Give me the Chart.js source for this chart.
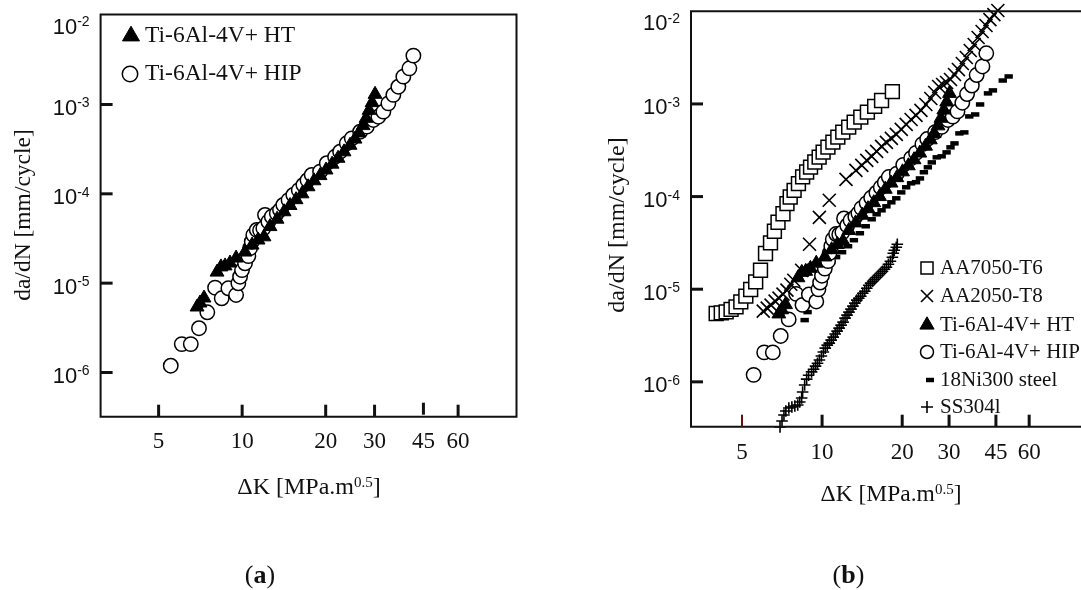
<!DOCTYPE html>
<html>
<head>
<meta charset="utf-8">
<script src="https://cdn.jsdelivr.net/npm/chart.js@4.4.1/dist/chart.umd.min.js"></script>
<style>
  html, body { margin: 0; padding: 0; background: #fff; }
  #wrap { position: relative; width: 1081px; height: 590px; overflow: hidden; }
  canvas { position: absolute; top: 0; }
  #left { left: 0; }
  #right { left: 540px; }
</style>
</head>
<body>
<div id="wrap">
  <canvas id="left" width="540" height="590"></canvas>
  <canvas id="right" width="541" height="590"></canvas>
</div>
<script>
'use strict';

// axis ticks
const kTicks = [5, 10, 20, 30, 45, 60];
const rateExps = [-2, -3, -4, -5, -6];

// Ti-6Al-4V + HT
const htK = [6.88, 7.05, 7.29, 8.12, 8.39, 8.68, 9.04, 9.51, 10.24, 10.86, 11.41, 11.99, 12.6, 13.36, 14.16, 14.88, 15.64, 16.44, 17.28, 18.16, 19.09, 20.06, 21.09, 22.16, 23.29, 24.48, 25.51, 26.38, 27.27, 27.96, 28.67, 29.39, 30.12];
const htRate = [5.41e-6, 6.0e-6, 6.82e-6, 1.33e-5, 1.52e-5, 1.56e-5, 1.68e-5, 1.91e-5, 2.23e-5, 2.67e-5, 3.04e-5, 3.3e-5, 4.3e-5, 5.2e-5, 6.3e-5, 7.4e-5, 8.6e-5, 1.0e-4, 1.2e-4, 1.4e-4, 1.6e-4, 1.85e-4, 2.15e-4, 2.5e-4, 2.95e-4, 3.5e-4, 4.1e-4, 4.8e-4, 5.8e-4, 7.0e-4, 8.6e-4, 1.05e-3, 1.3e-3];

// Ti-6Al-4V + HIP
const hipK = [5.53, 6.06, 6.53, 6.99, 7.49, 7.99, 8.44, 8.92, 9.51, 9.69, 9.83, 9.99, 10.24, 10.53, 10.68, 10.83, 10.97, 11.29, 11.6, 11.92, 12.09, 12.43, 12.79, 13.33, 13.69, 14.07, 14.7, 15.29, 16.0, 16.62, 17.2, 17.81, 19.09, 20.18, 21.62, 22.54, 23.82, 24.83, 26.61, 28.12, 29.7, 30.96, 32.27, 33.64, 35.06, 36.54, 38.09, 40.05, 41.4];
const hipRate = [1.19e-6, 2.08e-6, 2.08e-6, 3.13e-6, 4.72e-6, 8.9e-6, 6.77e-6, 8.76e-6, 7.37e-6, 9.97e-6, 1.18e-5, 1.4e-5, 1.67e-5, 2.01e-5, 2.46e-5, 2.91e-5, 3.46e-5, 3.94e-5, 3.9e-5, 4.11e-5, 5.8e-5, 4.88e-5, 5.55e-5, 6.05e-5, 6.59e-5, 7.5e-5, 8.5e-5, 9.71e-5, 1.1e-4, 1.256e-4, 1.42e-4, 1.625e-4, 1.77e-4, 2.2e-4, 2.6e-4, 2.96e-4, 3.68e-4, 4.18e-4, 4.96e-4, 5.65e-4, 6.71e-4, 7.3e-4, 8.31e-4, 1.03e-3, 1.28e-3, 1.58e-3, 2.05e-3, 2.54e-3, 3.52e-3];

// AA7050-T6
const aa7050K = [4.0, 4.18, 4.36, 4.55, 4.75, 4.95, 5.17, 5.39, 5.63, 5.87, 6.13, 6.4, 6.62, 6.83, 7.13, 7.38, 7.59, 7.85, 8.15, 8.45, 8.75, 9.05, 9.39, 9.75, 10.09, 10.52, 10.98, 11.46, 11.96, 12.59, 13.2, 13.98, 14.8, 15.76, 16.73, 18.37];
const aa7050Rate = [5.47e-6, 5.56e-6, 5.7e-6, 6.05e-6, 6.45e-6, 7.3e-6, 8.41e-6, 9.94e-6, 1.2e-5, 1.6e-5, 2.43e-5, 3.16e-5, 4.22e-5, 5.28e-5, 6.52e-5, 8.4e-5, 9.89e-5, 1.168e-4, 1.38e-4, 1.63e-4, 1.84e-4, 2.08e-4, 2.36e-4, 2.67e-4, 3.02e-4, 3.42e-4, 3.87e-4, 4.38e-4, 4.97e-4, 5.62e-4, 6.36e-4, 7.21e-4, 8.15e-4, 9.4e-4, 1.09e-3, 1.36e-3];

// AA2050-T8
const aa2050K = [6.01, 6.22, 6.43, 6.66, 6.89, 7.13, 7.38, 7.63, 7.83, 8.38, 8.97, 9.77, 10.64, 12.3, 13.4, 14.1, 14.72, 15.36, 16.03, 16.73, 17.45, 18.21, 19.0, 19.84, 20.7, 21.6, 22.54, 23.52, 24.55, 25.62, 26.5, 27.42, 28.38, 29.37, 30.38, 31.44, 32.53, 33.65, 34.83, 36.03, 37.28, 38.58, 39.92, 41.3, 42.73, 44.22, 45.75];
const aa2050Rate = [5.8e-6, 6.25e-6, 6.73e-6, 7.43e-6, 8.0e-6, 8.84e-6, 9.77e-6, 1.13e-5, 1.25e-5, 1.6e-5, 3.06e-5, 5.97e-5, 9.12e-5, 1.535e-4, 1.92e-4, 2.17e-4, 2.46e-4, 2.72e-4, 3.08e-4, 3.48e-4, 3.85e-4, 4.25e-4, 4.69e-4, 5.31e-4, 6.01e-4, 6.8e-4, 7.52e-4, 8.51e-4, 9.87e-4, 1.146e-3, 1.33e-3, 1.543e-3, 1.62e-3, 1.705e-3, 1.837e-3, 2.08e-3, 2.35e-3, 2.73e-3, 3.17e-3, 3.77e-3, 4.38e-3, 5.21e-3, 6.05e-3, 7.02e-3, 8.14e-3, 9.22e-3, 1.02e-2];

// 18Ni300 steel
const ni300K = [8.6, 8.82, 9.05, 9.37, 9.69, 10.0, 10.37, 10.82, 11.29, 11.89, 12.52, 13.17, 13.87, 14.59, 15.36, 16.03, 16.73, 17.45, 18.21, 19.0, 19.84, 20.7, 21.6, 22.54, 23.32, 24.13, 24.97, 25.84, 26.97, 28.14, 29.37, 30.38, 31.44, 32.81, 34.24, 35.73, 37.6, 39.24, 42.02, 43.84, 47.74, 50.24];
const ni300Rate = [4.64e-6, 5.66e-6, 7.08e-6, 9.29e-6, 1.16e-5, 1.42e-5, 1.69e-5, 1.96e-5, 2.22e-5, 2.51e-5, 2.91e-5, 3.38e-5, 4.02e-5, 4.78e-5, 5.69e-5, 6.44e-5, 7.11e-5, 7.85e-5, 8.67e-5, 9.58e-5, 1.11e-4, 1.26e-4, 1.39e-4, 1.43e-4, 1.57e-4, 1.83e-4, 2.07e-4, 2.34e-4, 2.65e-4, 2.72e-4, 3.0e-4, 3.4e-4, 3.75e-4, 4.81e-4, 4.93e-4, 7.33e-4, 7.7e-4, 9.87e-4, 1.3e-3, 1.4e-3, 1.79e-3, 1.98e-3];

// SS304l
const ss304K = [6.95, 7.07, 7.19, 7.31, 7.5, 7.7, 7.9, 8.1, 8.24, 8.38, 8.45, 8.6, 8.75, 8.9, 9.13, 9.29, 9.45, 9.61, 9.77, 9.94, 10.11, 10.28, 10.46, 10.64, 10.82, 11.01, 11.2, 11.39, 11.59, 11.79, 11.99, 12.2, 12.41, 12.62, 12.84, 13.06, 13.28, 13.51, 13.74, 13.98, 14.22, 14.47, 14.72, 14.97, 15.22, 15.49, 15.75, 16.03, 16.3, 16.58, 16.87, 17.16, 17.45, 17.75, 18.06, 18.37, 18.52, 18.68, 19.0, 19.17];
const ss304Rate = [3.26e-7, 3.78e-7, 4.39e-7, 4.85e-7, 5.22e-7, 5.35e-7, 5.49e-7, 5.62e-7, 6.06e-7, 6.69e-7, 7.77e-7, 9.24e-7, 1.07e-6, 1.18e-6, 1.28e-6, 1.37e-6, 1.48e-6, 1.59e-6, 1.72e-6, 1.9e-6, 2.1e-6, 2.31e-6, 2.49e-6, 2.62e-6, 2.82e-6, 3.04e-6, 3.28e-6, 3.53e-6, 3.8e-6, 4.1e-6, 4.41e-6, 4.87e-6, 5.25e-6, 5.66e-6, 6.09e-6, 6.57e-6, 7.07e-6, 7.62e-6, 8.0e-6, 8.41e-6, 9.06e-6, 9.52e-6, 1.026e-5, 1.105e-5, 1.162e-5, 1.22e-5, 1.283e-5, 1.348e-5, 1.417e-5, 1.489e-5, 1.565e-5, 1.644e-5, 1.728e-5, 1.862e-5, 2.006e-5, 2.215e-5, 2.445e-5, 2.635e-5, 2.84e-5, 3.06e-5];

const serif = '"Liberation Serif", "Times New Roman", serif';
const sans = '"Liberation Sans", Arial, sans-serif';

const styles = {
    sq: { pointStyle: 'rect', pointRadius: 9.8, pointBackgroundColor: '#fff', pointBorderColor: '#000', pointBorderWidth: 1.5 },
    x: { pointStyle: 'crossRot', pointRadius: 9.2, pointBackgroundColor: '#000', pointBorderColor: '#000', pointBorderWidth: 1.6 },
    tri: { pointStyle: 'triangle', pointRadius: 8, pointBackgroundColor: '#000', pointBorderColor: '#000', pointBorderWidth: 1 },
    circ: { pointStyle: 'circle', pointRadius: 7.2, pointBackgroundColor: '#fff', pointBorderColor: '#000', pointBorderWidth: 1.5 },
    dash: { pointStyle: 'line', pointRadius: 4.2, pointBackgroundColor: '#000', pointBorderColor: '#000', pointBorderWidth: 4.5 },
    plus: { pointStyle: 'cross', pointRadius: 5.8, pointBackgroundColor: '#000', pointBorderColor: '#000', pointBorderWidth: 1.6 }
};

let series = (label, ks, rates, st) => Object.assign({
    label: label,
    data: ks.map((k, i) => ({ x: k, y: rates[i] })),
    showLine: false,
    clip: false
}, st);

let richText = (ctx, parts, x, y, align) => {
    let w = 0;
    parts.forEach(p => { ctx.font = p.font; p.w = ctx.measureText(p.t).width; w += p.w; });
    let cx = align === 'center' ? x - w / 2 : (align === 'right' ? x - w : x);
    ctx.textAlign = 'left';
    ctx.textBaseline = 'alphabetic';
    parts.forEach(p => { ctx.font = p.font; ctx.fillText(p.t, cx, y + (p.dy || 0)); cx += p.w; });
};

let marker = (ctx, st, x, y, r) => {
    ctx.fillStyle = st.pointBackgroundColor;
    ctx.strokeStyle = st.pointBorderColor;
    ctx.lineWidth = st.pointBorderWidth;
    Chart.helpers.drawPoint(ctx, { pointStyle: st.pointStyle, radius: r || st.pointRadius, borderWidth: st.pointBorderWidth, rotation: 0 }, x, y);
};

let decor = (cfg) => ({
    id: 'decor',
    afterDraw(chart) {
        const ctx = chart.ctx, a = chart.chartArea;
        const xs = chart.scales.x, ys = chart.scales.y;
        ctx.save();
        ctx.strokeStyle = '#111';
        ctx.lineWidth = 2;
        ctx.beginPath();
        if (cfg.fullBox) {
            ctx.rect(a.left, a.top, a.right - a.left, a.bottom - a.top);
        } else {
            ctx.moveTo(chart.width, a.top);
            ctx.lineTo(a.left, a.top);
            ctx.lineTo(a.left, a.bottom);
            ctx.lineTo(chart.width, a.bottom);
        }
        ctx.stroke();

        // inward tick marks on the x axis
        kTicks.forEach(k => {
            const px = xs.getPixelForValue(k);
            const odd = cfg.oddTick && cfg.oddTick.value === k;
            const lift = cfg.lift && cfg.lift[k] ? cfg.lift[k] : 0;
            ctx.beginPath();
            ctx.lineWidth = odd ? 2 : 3;
            ctx.strokeStyle = odd ? cfg.oddTick.color : '#111';
            ctx.moveTo(px, a.bottom - lift);
            ctx.lineTo(px, a.bottom - 12 - lift);
            ctx.stroke();
            ctx.fillStyle = '#111';
            ctx.font = cfg.tickFont;
            ctx.textAlign = 'center';
            ctx.textBaseline = 'middle';
            ctx.fillText(String(k), px, a.bottom + cfg.xLabelGap);
        });

        // inward tick marks and labels on the y axis
        rateExps.forEach(e => {
            const py = ys.getPixelForValue(Math.pow(10, e));
            if (e < -2) {
                ctx.beginPath();
                ctx.lineWidth = 3;
                ctx.strokeStyle = '#111';
                ctx.moveTo(a.left, py);
                ctx.lineTo(a.left + 12, py);
                ctx.stroke();
            }
            const base = Math.max(py + 10.5, a.top + 19);
            ctx.fillStyle = '#111';
            richText(ctx, [
                { t: '10', font: cfg.yNumFont },
                { t: String(e), font: cfg.ySupFont, dy: -7.5 }
            ], a.left - 11, base, 'right');
        });

        // axis titles
        ctx.fillStyle = '#111';
        richText(ctx, [
            { t: '\u0394K [MPa.m', font: cfg.titleFont },
            { t: '0.5', font: cfg.titleSupFont, dy: -7.5 },
            { t: ']', font: cfg.titleFont }
        ], cfg.xTitle[0], cfg.xTitle[1], 'center');

        ctx.save();
        ctx.translate(cfg.yTitle[0], cfg.yTitle[1]);
        ctx.rotate(-Math.PI / 2);
        ctx.font = cfg.yTitleFont;
        ctx.textAlign = 'center';
        ctx.textBaseline = 'middle';
        ctx.fillText('da/dN [mm/cycle]', 0, 0);
        ctx.restore();

        // legend
        cfg.legend.forEach(item => {
            marker(ctx, item.st, item.mx, item.y, item.r);
            ctx.fillStyle = '#111';
            ctx.font = cfg.legendFont;
            ctx.textAlign = 'left';
            ctx.textBaseline = 'middle';
            ctx.fillText(item.text, cfg.legendTextX, item.y);
        });

        // panel caption
        ctx.fillStyle = '#111';
        richText(ctx, [
            { t: '(', font: '26px ' + serif },
            { t: cfg.caption, font: 'bold 26px ' + serif },
            { t: ')', font: '26px ' + serif }
        ], cfg.captionX, 583, 'center');
        ctx.restore();
    }
});

let makeOptions = (pad, xr, yr) => ({
    responsive: false,
    animation: false,
    devicePixelRatio: 1,
    layout: { padding: pad },
    plugins: { legend: { display: false }, tooltip: { enabled: false } },
    scales: {
        x: { type: 'logarithmic', min: xr[0], max: xr[1], bounds: 'data', display: false },
        y: { type: 'logarithmic', min: yr[0], max: yr[1], bounds: 'data', display: false }
    }
});

// panel (a)
new Chart(document.getElementById('left'), {
    type: 'scatter',
    data: {
        datasets: [
            series('Ti-6Al-4V+ HT', htK, htRate, styles.tri),
            series('Ti-6Al-4V+ HIP', hipK, hipRate, styles.circ)
        ]
    },
    options: makeOptions({ left: 100.6, top: 14.5, right: 23.5, bottom: 173.3 }, [3.09, 97.4], [3.2e-7, 1.017e-2]),
    plugins: [decor({
        fullBox: true,
        lift: { 45: 2 },
        tickFont: '23px ' + serif,
        xLabelGap: 25,
        yNumFont: '22px ' + sans,
        ySupFont: '14px ' + sans,
        titleFont: '24px ' + serif,
        titleSupFont: '15px ' + serif,
        yTitleFont: '23.5px ' + serif,
        xTitle: [309, 494],
        yTitle: [24, 215],
        legendFont: '23.5px ' + serif,
        legendTextX: 145,
        legend: [
            { st: styles.tri, mx: 131, y: 36, r: 9.8, text: 'Ti-6Al-4V+ HT' },
            { st: styles.circ, mx: 130, y: 74, r: 7.7, text: 'Ti-6Al-4V+ HIP' }
        ],
        caption: 'a',
        captionX: 260
    })]
});

// panel (b)
new Chart(document.getElementById('right'), {
    type: 'scatter',
    data: {
        datasets: [
            series('AA7050-T6', aa7050K, aa7050Rate, styles.sq),
            series('AA2050-T8', aa2050K, aa2050Rate, styles.x),
            series('Ti-6Al-4V+ HT', htK, htRate, styles.tri),
            series('Ti-6Al-4V+ HIP', hipK, hipRate, styles.circ),
            series('18Ni300 steel', ni300K, ni300Rate, styles.dash),
            series('SS304l', ss304K, ss304Rate, styles.plus)
        ]
    },
    options: makeOptions({ left: 151, top: 10.7, right: 0, bottom: 163.3 }, [3.217, 85.2], [3.28e-7, 1e-2]),
    plugins: [decor({
        fullBox: false,
        oddTick: { value: 5, color: '#6a0c0c' },
        tickFont: '23px ' + serif,
        xLabelGap: 26,
        yNumFont: '22px ' + sans,
        ySupFont: '14px ' + sans,
        titleFont: '23.5px ' + serif,
        titleSupFont: '15px ' + serif,
        yTitleFont: '24px ' + serif,
        xTitle: [351, 501],
        yTitle: [78, 225],
        legendFont: '21px ' + serif,
        legendTextX: 400,
        legend: [
            { st: styles.sq, mx: 387, y: 268, r: 8.5, text: 'AA7050-T6' },
            { st: styles.x, mx: 387, y: 296, r: 8.5, text: 'AA2050-T8' },
            { st: styles.tri, mx: 387, y: 325, r: 8.2, text: 'Ti-6Al-4V+ HT' },
            { st: styles.circ, mx: 387, y: 352, r: 6.5, text: 'Ti-6Al-4V+ HIP' },
            { st: styles.dash, mx: 390, y: 380, r: 4, text: '18Ni300 steel' },
            { st: styles.plus, mx: 387, y: 407, r: 6, text: 'SS304l' }
        ],
        caption: 'b',
        captionX: 308.5
    })]
});
</script>
</body>
</html>
